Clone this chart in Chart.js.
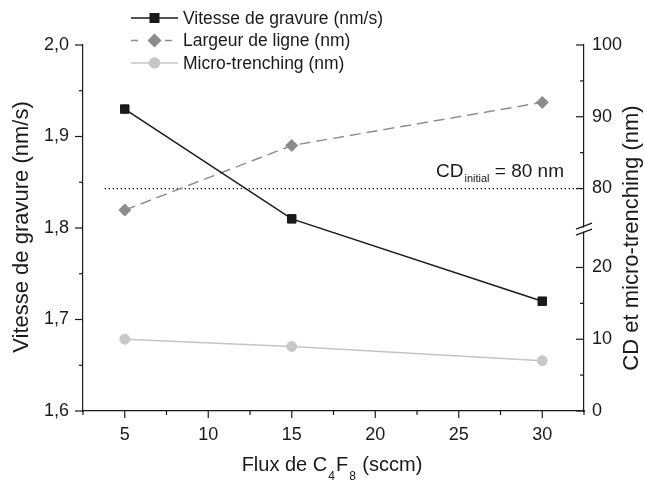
<!DOCTYPE html>
<html>
<head>
<meta charset="utf-8">
<script src="https://cdn.jsdelivr.net/npm/chart.js@4.4.0/dist/chart.umd.min.js"></script>
<style>
  html, body { margin: 0; padding: 0; background: #fff; }
  #wrap { width: 645px; height: 481px; position: relative; }
</style>
</head>
<body>
<div id="wrap"><canvas id="chart"></canvas></div>
<script>
// data
const flux = [5, 15, 30];
const vitesse = [1.93, 1.81, 1.72];
const largeur = [77, 86, 92];
const microTrenching = [10, 9, 7];
const cdInitialX = [3.8, 32.5];
const cdInitialY = [80, 80];

// axes
const xTicks = [5, 10, 15, 20, 25, 30];
const xMinorTicks = [2.5, 7.5, 12.5, 17.5, 22.5, 27.5, 32.5];
const leftTicks = [1.6, 1.7, 1.8, 1.9, 2.0];
const leftMinorTicks = [1.65, 1.75, 1.85, 1.95];
const rightTicks = [0, 10, 20, 80, 90, 100];
const rightMinorTicks = [5, 15, 85, 95];
const rightBreak = [25, 74]; // range cut out of the right axis

const FONT = '"Liberation Sans", Arial, sans-serif';
const INK = '#1a1a1a';

// right axis with a break: values above the break are shifted down
class BrokenLinearScale extends Chart.LinearScale {
    static id = 'brokenLinear';
    getPixelForValue(value) {
        const gap = rightBreak[1] - rightBreak[0];
        const v = value > rightBreak[0] ? value - gap : value;
        return super.getPixelForValue(v);
    }
}
Chart.register(BrokenLinearScale);

const pts = (xs, ys) => xs.map((x, i) => ({ x: x, y: ys[i] }));

function line(ctx, x1, y1, x2, y2) {
    ctx.beginPath();
    ctx.moveTo(x1, y1);
    ctx.lineTo(x2, y2);
    ctx.stroke();
}

const decorations = {
    id: 'decorations',
    afterDraw(chart) {
        const { ctx, chartArea: area, scales } = chart;
        const { x, y, y2 } = scales;
        ctx.save();
        ctx.strokeStyle = INK;
        ctx.lineWidth = 1.2;

        // tick marks: left & bottom outward, right inward
        leftTicks.forEach(v => { const p = y.getPixelForValue(v); line(ctx, area.left - 8, p, area.left, p); });
        leftMinorTicks.forEach(v => { const p = y.getPixelForValue(v); line(ctx, area.left - 4, p, area.left, p); });
        xTicks.forEach(v => { const p = x.getPixelForValue(v); line(ctx, p, area.bottom, p, area.bottom + 7); });
        xMinorTicks.forEach(v => { const p = x.getPixelForValue(v); line(ctx, p, area.bottom, p, area.bottom + 4); });
        rightTicks.forEach(v => { const p = y2.getPixelForValue(v); line(ctx, area.right - 8, p, area.right, p); });
        rightMinorTicks.forEach(v => { const p = y2.getPixelForValue(v); line(ctx, area.right - 4, p, area.right, p); });

        // break marks
        const pb = y2.getPixelForValue(rightBreak[0]) - 2;
        ctx.strokeStyle = '#fff';
        ctx.lineWidth = 4;
        line(ctx, area.right, pb - 2, area.right, pb + 2);
        ctx.strokeStyle = INK;
        ctx.lineWidth = 1.2;
        line(ctx, area.right - 8, pb - 0.5, area.right + 8, pb - 6.5);
        line(ctx, area.right - 8, pb + 5.5, area.right + 8, pb - 0.5);

        // CD initial label
        ctx.fillStyle = INK;
        ctx.textBaseline = 'alphabetic';
        const base = y2.getPixelForValue(80) - 12;
        let tx = 436;
        ctx.font = '19px ' + FONT;
        ctx.fillText('CD', tx, base);
        tx += ctx.measureText('CD').width + 1;
        ctx.font = '11px ' + FONT;
        ctx.fillText('initial', tx, base + 5);
        tx += ctx.measureText('initial').width;
        ctx.font = '19px ' + FONT;
        ctx.fillText(' = 80 nm', tx, base);

        // axis titles
        ctx.font = '22px ' + FONT;
        ctx.textAlign = 'center';
        ctx.textBaseline = 'middle';
        ctx.save();
        ctx.translate(22, 227);
        ctx.rotate(-Math.PI / 2);
        ctx.fillText('Vitesse de gravure (nm/s)', 0, 0);
        ctx.restore();
        ctx.save();
        ctx.translate(632, 238);
        ctx.rotate(-Math.PI / 2);
        ctx.fillText('CD et micro-trenching (nm)', 0, 0);
        ctx.restore();

        // x title with subscripts
        ctx.textAlign = 'left';
        ctx.textBaseline = 'alphabetic';
        const parts = [['Flux de C', 20, 0], ['4', 12, 9], ['F', 20, 0], ['8', 12, 9], [' (sccm)', 20, 0]];
        let total = 0;
        parts.forEach(p => { ctx.font = p[1] + 'px ' + FONT; total += ctx.measureText(p[0]).width + (p[1] === 12 ? 2 : 0); });
        let px = 332 - total / 2;
        parts.forEach(p => {
            ctx.font = p[1] + 'px ' + FONT;
            if (p[1] === 12) px += 1;
            ctx.fillText(p[0], px, 471 + p[2]);
            px += ctx.measureText(p[0]).width + (p[1] === 12 ? 1 : 0);
        });

        // legend
        const rows = [
            { label: 'Vitesse de gravure (nm/s)', color: INK, style: 'rect', r: 6, dash: false },
            { label: 'Largeur de ligne (nm)', color: '#8c8c8c', style: 'rectRot', r: 6, dash: true },
            { label: 'Micro-trenching (nm)', color: '#c6c6c6', style: 'circle', r: 5, dash: false }
        ];
        ctx.font = '17.5px ' + FONT;
        ctx.textBaseline = 'middle';
        rows.forEach((row, i) => {
            const ly = 18 + i * 22.5;
            ctx.strokeStyle = row.color;
            ctx.fillStyle = row.color;
            ctx.lineWidth = 1.5;
            if (row.dash) {
                line(ctx, 131, ly, 138, ly);
                line(ctx, 165, ly, 172, ly);
            } else {
                line(ctx, 131, ly, 178, ly);
            }
            Chart.helpers.drawPoint(ctx, { pointStyle: row.style, radius: row.r, rotation: 0, borderWidth: 1 }, 154.5, ly);
            ctx.fillStyle = INK;
            ctx.fillText(row.label, 183, ly + 1);
        });
        ctx.restore();
    }
};

const ctx = document.getElementById('chart').getContext('2d');
new Chart(ctx, {
    type: 'line',
    data: {
        datasets: [
            {
                label: 'Vitesse de gravure (nm/s)',
                data: pts(flux, vitesse),
                yAxisID: 'y',
                borderColor: INK,
                backgroundColor: INK,
                borderWidth: 1.5,
                pointStyle: 'rect',
                pointRadius: 6,
                pointBorderWidth: 1
            },
            {
                label: 'Largeur de ligne (nm)',
                data: pts(flux, largeur),
                yAxisID: 'y2',
                borderColor: '#8f8f8f',
                backgroundColor: '#8c8c8c',
                borderWidth: 1.5,
                borderDash: [11, 6],
                pointStyle: 'rectRot',
                pointRadius: 6,
                pointBorderWidth: 1,
                pointBorderColor: '#8c8c8c'
            },
            {
                label: 'Micro-trenching (nm)',
                data: pts(flux, microTrenching),
                yAxisID: 'y2',
                borderColor: '#c4c4c4',
                backgroundColor: '#c8c8c8',
                borderWidth: 1.5,
                pointStyle: 'circle',
                pointRadius: 5,
                pointBorderWidth: 1,
                pointBorderColor: '#c8c8c8'
            },
            {
                label: 'CD initial',
                data: pts(cdInitialX, cdInitialY),
                yAxisID: 'y2',
                borderColor: '#000',
                borderWidth: 1.2,
                borderDash: [1.2, 2.8],
                pointRadius: 0
            }
        ]
    },
    options: {
        responsive: true,
        maintainAspectRatio: false,
        animation: false,
        layout: { padding: { top: 45, left: 0, right: 0, bottom: 0 } },
        plugins: {
            legend: { display: false },
            tooltip: { enabled: false }
        },
        scales: {
            x: {
                type: 'linear',
                min: 2.5,
                max: 32.5,
                afterBuildTicks: s => { s.ticks = xTicks.map(v => ({ value: v })); },
                afterFit: s => { s.height = 70; },
                grid: { display: false, drawTicks: false },
                border: { display: true, color: INK, width: 1.2 },
                ticks: {
                    padding: 13,
                    color: INK,
                    font: { family: FONT, size: 18 },
                    maxRotation: 0,
                    callback: v => String(v)
                }
            },
            y: {
                type: 'linear',
                position: 'left',
                min: 1.6,
                max: 2.0,
                afterBuildTicks: s => { s.ticks = leftTicks.map(v => ({ value: v })); },
                afterFit: s => { s.width = 83; },
                grid: { display: false, drawTicks: false },
                border: { display: true, color: INK, width: 1.2 },
                ticks: {
                    padding: 14,
                    color: INK,
                    font: { family: FONT, size: 18 },
                    callback: v => v.toFixed(1).replace('.', ',')
                }
            },
            y2: {
                type: 'brokenLinear',
                position: 'right',
                min: 0,
                max: 100 - (rightBreak[1] - rightBreak[0]),
                afterBuildTicks: s => { s.ticks = rightTicks.map(v => ({ value: v })); },
                afterFit: s => { s.width = 61; },
                grid: { display: false, drawTicks: false },
                border: { display: true, color: INK, width: 1.2 },
                ticks: {
                    padding: 8,
                    color: INK,
                    font: { family: FONT, size: 18 },
                    callback: v => String(v)
                }
            }
        }
    },
    plugins: [decorations]
});
</script>
</body>
</html>
